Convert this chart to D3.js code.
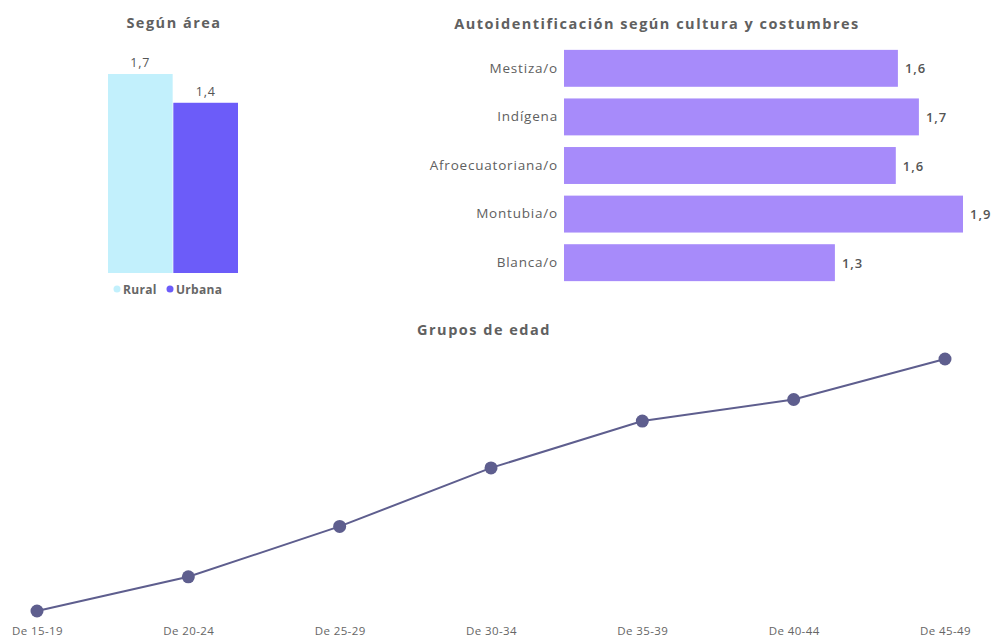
<!DOCTYPE html>
<html><head><meta charset="utf-8">
<script src="https://cdn.jsdelivr.net/npm/d3@7"></script>
<style>body{margin:0;background:#fff;} text{font-family:"Open Sans","Noto Sans",sans-serif;}</style>
</head><body>
<svg id="c" width="993" height="638"></svg>
<script>
const areaCats = ["Rural", "Urbana"];
const areaVals = [1.66, 1.42];
const cultCats = ["Mestiza/o", "Indígena", "Afroecuatoriana/o", "Montubia/o", "Blanca/o"];
const cultVals = [1.59, 1.69, 1.58, 1.9, 1.29];
const ageCats = ["De 15-19", "De 20-24", "De 25-29", "De 30-34", "De 35-39", "De 40-44", "De 45-49"];
const ageVals = [0.3, 0.68, 1.24, 1.89, 2.41, 2.65, 3.1];

const svg = d3.select("#c");
const fmt = v => d3.format(".1f")(v).replace(".", ",");
const titleCol = "#606060", lblCol = "#555";
const title = (x, y, t) => svg.append("text").attr("x", x).attr("y", y).attr("text-anchor", "middle")
  .attr("font-size", 14.5).attr("font-weight", 700).attr("letter-spacing", 1.5)
  .attr("fill", titleCol).text(t);

// ---- Según área ----
const areaColors = ["#c2f0fc", "#6c5cf9"];
const xA = d3.scaleBand().domain(areaCats).range([108, 238]).paddingInner(0.01);
const yA = d3.scaleLinear().domain([0, 1.66]).range([273, 74]);
title(174, 28, "Según área");
svg.selectAll(".ab").data(areaVals).join("rect")
  .attr("x", (d, i) => xA(areaCats[i])).attr("width", xA.bandwidth())
  .attr("y", d => yA(d)).attr("height", d => yA(0) - yA(d))
  .attr("fill", (d, i) => areaColors[i]);
svg.selectAll(".al").data(areaVals).join("text")
  .attr("x", (d, i) => xA(areaCats[i]) + xA.bandwidth() / 2).attr("y", d => yA(d) - 7)
  .attr("text-anchor", "middle").attr("font-size", 12.5).attr("letter-spacing", 0.8)
  .attr("fill", lblCol).text(d => fmt(d));
// legend
const leg = [{x: 117, t: "Rural"}, {x: 170, t: "Urbana"}];
leg.forEach((l, i) => {
  svg.append("circle").attr("cx", l.x).attr("cy", 289).attr("r", 3.5).attr("fill", areaColors[i]);
  svg.append("text").attr("x", l.x + 6).attr("y", 293.5).attr("font-size", 12).attr("font-weight", 700)
    .attr("letter-spacing", 0.3).attr("fill", "#666").text(l.t);
});

// ---- Autoidentificación ----
const yC = d3.scaleBand().domain(cultCats).range([45, 286]).paddingInner(0.24).paddingOuter(0.1);
const xC = d3.scaleLinear().domain([0, 1.9]).range([564, 963]);
title(657, 29, "Autoidentificación según cultura y costumbres");
svg.selectAll(".cb").data(cultVals).join("rect")
  .attr("x", xC(0)).attr("y", (d, i) => yC(cultCats[i]))
  .attr("width", d => xC(d) - xC(0)).attr("height", yC.bandwidth())
  .attr("fill", "#a78bfa");
svg.selectAll(".cl").data(cultVals).join("text")
  .attr("x", d => xC(d) + 7).attr("y", (d, i) => yC(cultCats[i]) + yC.bandwidth() / 2 + 5)
  .attr("font-size", 13).attr("font-weight", 600).attr("letter-spacing", 1)
  .attr("fill", lblCol).text(d => fmt(d));
const yAxC = svg.append("g").attr("transform", `translate(${xC(0) - 6},0)`)
  .call(d3.axisLeft(yC).tickSize(0).tickPadding(0));
yAxC.select(".domain").remove();
yAxC.selectAll("text").attr("font-size", 13.5).attr("fill", "#606060").attr("letter-spacing", 0.8)
  .attr("font-family", "'Open Sans',sans-serif");

// ---- Grupos de edad ----
const xG = d3.scalePoint().domain(ageCats).range([37, 945]);
const yG = d3.scaleLinear().domain([0.3, 3.1]).range([611, 359]);
title(484, 335, "Grupos de edad");
const ptCol = "#5e5e8e";
svg.append("path").datum(ageVals)
  .attr("d", d3.line().x((d, i) => xG(ageCats[i])).y(d => yG(d)))
  .attr("fill", "none").attr("stroke", ptCol).attr("stroke-width", 2);
svg.selectAll(".gp").data(ageVals).join("circle")
  .attr("cx", (d, i) => xG(ageCats[i])).attr("cy", d => yG(d)).attr("r", 6.5).attr("fill", ptCol);
const xAxG = svg.append("g").attr("transform", "translate(0,625)")
  .call(d3.axisBottom(xG).tickSize(0).tickPadding(0));
xAxG.select(".domain").remove();
xAxG.selectAll("text").attr("font-size", 11.5).attr("fill", "#666").attr("dy", "0.9em")
  .attr("letter-spacing", 0.4).attr("font-family", "'Open Sans',sans-serif");
</script>
</body></html>
